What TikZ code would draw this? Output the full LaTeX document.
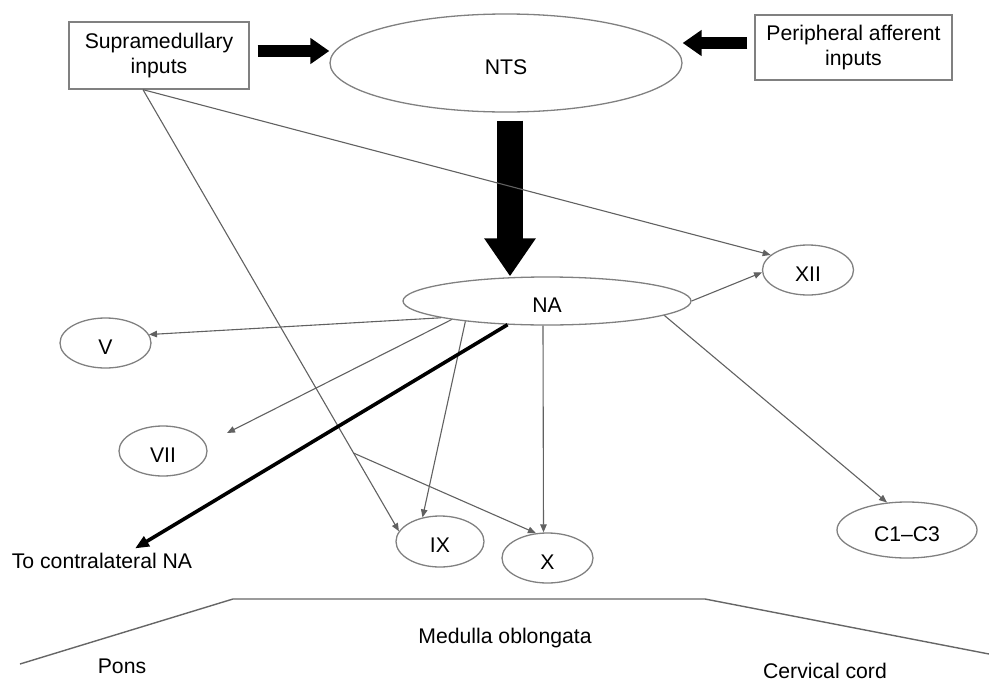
\documentclass[tikz,border=0pt]{standalone}
\usepackage{fontspec}
\setmainfont{Liberation Sans}
\usetikzlibrary{shapes.geometric,arrows.meta,calc}
\begin{document}
\begin{tikzpicture}[x=1pt,y=-1pt,
  every node/.style={font=\fontsize{21.2}{24.5}\selectfont},
  nbox/.style={draw=black!50, line width=1.3pt, rectangle, inner sep=0pt, align=center},
  nell/.style={draw=black!50, line width=1.3pt, ellipse, inner sep=0pt, text height=22pt, text depth=0pt},
  conn/.style={draw=black!62, line width=1.1pt, -{Triangle[length=8pt,width=6.5pt]}},
  blockarrow/.style={line width=12pt, -{Triangle[length=19pt,width=25pt]}},
  bigarrow/.style={line width=26pt, -{Triangle[length=38pt,width=49pt]}},
  thickarrow/.style={line width=3.6pt, -{Triangle[length=14pt,width=11pt]}},
  lbl/.style={anchor=base, inner sep=0pt},
  outline/.style={draw=black!60, line width=1.4pt}
]
\useasboundingbox (0,0) rectangle (989,683);

% boxes
\node[nbox, minimum width=180pt, minimum height=67pt] (sup) at (159,55.5) {Supramedullary\\inputs};
\node[nbox, minimum width=197pt, minimum height=65pt] (per) at (853.5,47.5) {Peripheral afferent\\inputs};

% ellipses
\node[nell, minimum width=352pt, minimum height=98pt] (nts) at (506,63) {NTS};
\node[nell, minimum width=288pt, minimum height=48pt] (na) at (547,301) {NA};
\node[nell, minimum width=91pt, minimum height=50pt] (xii) at (808,270) {XII};
\node[nell, minimum width=91pt, minimum height=50pt] (v) at (105.5,343) {V};
\node[nell, minimum width=88pt, minimum height=50pt] (vii) at (163,451) {VII};
\node[nell, minimum width=88pt, minimum height=51pt] (ix) at (440,541.5) {IX};
\node[nell, minimum width=91pt, minimum height=50pt] (x) at (547.5,558) {X};
\node[nell, minimum width=140pt, minimum height=56pt] (c13) at (907,530) {C1–C3};

% labels
\node[lbl] (contra) at (102,568) {To contralateral NA};
\node[lbl] (medulla) at (505,643) {Medulla oblongata};
\node[lbl] (pons) at (122,673) {Pons};
\node[lbl] (cerv) at (825,678) {Cervical cord};

% block arrows
\draw[blockarrow] ([xshift=8pt,yshift=4.5pt]sup.east) -- ([yshift=4.5pt]sup.east -| nts.west);
\draw[blockarrow] ([xshift=-7pt,yshift=4.5pt]per.west) -- ([yshift=4.5pt]per.west -| nts.east);
\draw[bigarrow] ([xshift=4pt,yshift=-8pt]nts.south) -- ([xshift=4pt]nts.south |- na.north);

% connectors from supramedullary inputs
\coordinate (s0) at ([xshift=-16pt]sup.south);
\coordinate (br) at ($(s0)!0.823!(ix.166)$);
\draw[conn] (s0) -- (ix.166);
\draw[conn] (br) -- (x.115);
\draw[conn] (s0) -- (xii.158);

% connectors from NA
\coordinate (viiend) at (227,433);
\draw[conn] (na.east) -- (xii.183);
\draw[conn] (na.189) -- (v.11);
\draw[conn] (na.191) -- (viiend);
\draw[conn] (na.194) -- (ix.126);
\draw[conn] ([xshift=-4pt]na.south) -- ([xshift=-4pt]x.north);
\draw[conn] (na.-7) -- (c13.126);
\draw[thickarrow] (na.211) -- ([xshift=33pt,yshift=4pt]contra.north);

% brainstem outline
\draw[outline] (20,664) -- (233,599) -- (705,599) -- (989,654);
\end{tikzpicture}
\end{document}
